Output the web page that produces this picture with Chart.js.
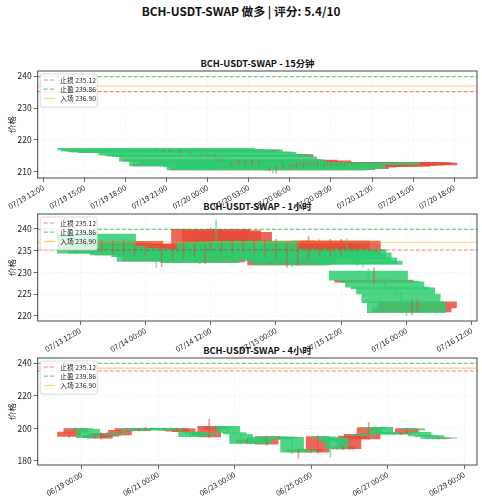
<!DOCTYPE html>
<html><head><meta charset="utf-8">
<script src="https://cdn.jsdelivr.net/npm/chart.js@4/dist/chart.umd.min.js"></script>
<style>
html,body{margin:0;padding:0;background:#fff;width:482px;height:500px;overflow:hidden;position:relative;font-family:"Noto Sans CJK SC",sans-serif;}
.t{position:absolute;text-align:center;color:#111;font-weight:bold;white-space:nowrap;}
canvas{position:absolute;left:0;}
</style></head><body>
<div class="t" style="left:0;width:482px;top:2px;line-height:18px;font-size:11.8px;">BCH-USDT-SWAP 做多 | 评分: 5.4/10</div>
<div class="t" style="left:37.7px;width:439.3px;top:56px;line-height:14px;font-size:9.3px;">BCH-USDT-SWAP - 15分钟</div>
<div class="t" style="left:37.7px;width:439.3px;top:199px;line-height:14px;font-size:9.3px;">BCH-USDT-SWAP - 1小时</div>
<div class="t" style="left:37.7px;width:439.3px;top:343px;line-height:14px;font-size:9.3px;">BCH-USDT-SWAP - 4小时</div>
<canvas id="c1" width="482" height="163" style="top:50px"></canvas>
<canvas id="c2" width="482" height="163" style="top:193px"></canvas>
<canvas id="c3" width="482" height="163" style="top:337px"></canvas>
<script>
// ---- levels ----
const levelNames = ['止损', '止盈', '入场'];
const levelValues = [235.12, 239.86, 236.90];

// ---- 15m ----
const start15m = '07/19 20:15', step15m = 15;
const open15m = [217.4,216.9,216.6,217.0,216.3,216.8,216.4,216.0,216.9,216.2,216.0,216.2,216.1,215.3,215.4,215.0,215.4,214.8,214.7,213.4,213.9,213.5,211.9,212.6,212.2,212.9,212.4,212.9,212.0,212.9,212.3,212.8,211.6,210.6,211.4,210.7,211.8,211.6,212.3,211.0,211.9,211.5,212.3,211.8,212.6,212.0,212.4,211.8,212.9,211.9,212.3,211.7,212.4,212.0,212.5,212.1,212.6,212.3,212.6,212.2];
const close15m = [216.9,216.6,217.0,216.3,216.8,216.4,216.0,216.9,216.2,216.0,216.2,216.0,215.3,215.4,215.0,215.4,214.8,215.4,213.4,213.9,213.5,211.9,212.6,212.2,213.7,212.4,213.2,212.0,213.5,212.3,213.0,211.6,210.6,211.4,210.7,211.8,211.6,212.3,211.0,212.0,212.1,212.6,212.6,212.9,212.8,212.8,212.6,212.9,212.3,212.5,212.6,212.6,212.7,212.9,212.8,212.8,212.9,212.9,212.8,212.8];
const high15m = [217.5,217.1,217.1,217.1,216.9,216.9,216.5,217.0,217.0,216.3,216.4,216.3,216.2,215.6,215.5,215.6,215.5,215.6,214.8,214.1,214.0,213.6,212.8,212.7,213.9,213.1,213.4,213.0,213.7,213.0,213.2,212.9,211.7,211.6,211.5,212.0,211.9,212.5,212.4,212.2,212.3,212.8,212.8,213.1,212.9,213.0,212.8,213.1,213.0,212.7,212.8,212.8,212.9,213.0,212.9,213.0,213.0,213.1,212.9,212.9];
const low15m = [216.8,216.5,216.5,216.2,216.2,216.3,215.9,215.9,216.1,215.9,215.9,215.8,215.1,215.2,214.8,214.9,214.5,214.7,213.2,213.2,213.3,211.7,211.7,212.0,212.1,212.2,212.3,211.8,211.9,212.1,212.2,211.4,210.4,210.4,209.6,209.6,211.4,211.4,210.8,210.9,211.7,211.4,212.1,211.6,212.4,211.9,212.2,211.6,212.1,211.8,212.1,211.5,212.2,211.9,212.3,212.0,212.4,212.2,212.4,212.1];
const ticks15m = ['07/19 12:00','07/19 15:00','07/19 18:00','07/19 21:00','07/20 00:00','07/20 03:00','07/20 06:00','07/20 09:00','07/20 12:00','07/20 15:00','07/20 18:00'];
const yTicks15m = [210, 220, 230, 240];

// ---- 1h ----
const start1h = '07/13 15:00', step1h = 60;
const open1h = [238.8,235.0,236.0,234.5,235.5,234.6,235.4,234.0,235.2,234.3,235.0,234.0,232.6,234.5,233.1,234.8,233.5,235.0,233.9,235.2,232.4,235.2,236.9,235.0,236.8,234.8,237.0,235.2,237.1,234.5,237.1,233.8,235.2,233.2,235.0,231.7,235.1,231.9,235.0,233.3,235.2,234.2,235.1,233.9,235.2,234.1,235.2,234.5,233.3,232.5,230.3,227.7,228.0,227.8,226.6,226.4,225.0,223.2,220.9,221.8];
const close1h = [234.4,237.0,234.4,236.8,234.5,237.1,234.0,236.5,234.2,236.0,233.6,232.5,235.5,233.0,236.2,233.4,236.5,233.8,236.0,232.2,235.8,239.9,235.0,239.6,234.6,239.2,235.2,237.1,234.4,237.1,233.6,237.0,233.0,237.2,232.6,236.5,231.7,236.8,233.2,237.1,234.0,237.0,233.8,237.2,234.0,237.2,233.0,232.8,232.0,231.8,228.2,228.2,227.6,226.6,226.2,225.0,223.0,220.7,221.8,223.2];
const high1h = [239.2,237.4,236.5,237.2,235.8,237.5,235.8,236.9,235.6,236.4,235.3,234.3,235.8,234.8,236.5,235.1,236.9,235.4,236.4,235.6,236.2,240.3,242.1,239.9,237.2,239.5,237.4,238.4,237.5,237.6,237.5,237.6,235.6,237.6,235.4,237.0,235.5,237.1,235.4,238.3,235.6,237.5,235.5,237.6,235.5,237.6,237.7,234.9,233.7,232.9,230.8,231.0,228.4,228.3,227.0,226.9,225.4,223.6,223.6,223.6];
const low1h = [234.2,234.8,234.0,234.2,234.1,234.4,233.7,233.8,233.8,234.0,233.2,231.1,231.3,232.6,232.8,233.0,233.2,233.5,233.6,231.9,232.0,235.0,234.7,234.6,234.2,234.5,234.9,235.0,234.1,234.2,233.2,233.5,232.6,232.9,232.2,231.1,231.3,231.6,232.8,233.0,233.7,233.9,233.4,233.6,233.7,233.8,232.6,232.3,231.6,231.2,227.8,227.3,227.1,226.1,225.7,224.6,222.5,220.0,220.2,221.3];
const ticks1h = ['07/13 12:00','07/14 00:00','07/14 12:00','07/15 00:00','07/15 12:00','07/16 00:00','07/16 12:00'];
const yTicks1h = [220, 225, 230, 235, 240];

// ---- 4h ----
const start4h = '06/18 16:00', step4h = 240;
const open4h = [195.0,197.7,199.8,199.4,194.3,194.0,195.2,196.8,196.0,198.6,199.6,198.6,199.4,200.0,199.8,199.0,199.8,198.2,197.9,197.7,197.5,196.8,194.7,199.5,200.8,201.2,197.4,196.3,191.0,193.0,194.4,190.2,194.8,193.5,194.6,194.4,185.5,186.8,185.8,185.3,194.8,194.0,194.0,187.4,187.5,193.5,196.2,193.5,200.4,200.6,197.6,197.0,196.5,197.0,199.6,197.5,195.6,195.6,193.8,194.1];
const close4h = [197.7,199.8,199.3,194.2,195.5,196.9,196.8,196.0,198.8,199.8,198.6,199.6,200.0,199.2,199.0,199.8,198.8,199.8,199.6,194.9,196.5,195.5,201.2,200.8,200.2,197.3,196.5,190.8,193.0,191.5,190.8,194.9,193.5,194.6,193.8,185.3,186.8,185.6,187.0,195.0,194.0,192.0,187.5,188.6,195.3,196.3,195.5,200.5,199.8,196.5,196.8,196.4,197.0,199.8,199.0,195.3,195.0,193.8,194.1,193.9];
const high4h = [198.2,200.3,200.3,199.9,196.0,197.4,197.3,197.2,199.3,200.3,200.1,200.1,200.6,200.5,200.2,200.3,200.3,200.3,200.1,198.2,198.0,197.3,205.5,201.3,201.3,201.7,197.9,196.8,193.5,193.5,194.9,195.4,195.3,195.1,195.1,194.9,187.3,187.3,187.5,195.5,195.3,194.5,194.5,189.1,195.8,196.8,196.7,203.7,200.9,201.1,198.1,197.5,197.5,200.3,200.1,198.0,196.1,196.1,194.6,194.6];
const low4h = [194.4,197.2,198.8,193.4,193.8,193.5,194.8,195.6,195.5,198.1,198.1,198.2,199.0,198.8,198.5,198.6,198.3,197.8,197.4,194.4,196.0,195.0,194.2,199.0,199.7,196.8,196.0,190.2,190.5,191.0,190.3,189.7,193.0,193.0,193.3,184.5,181.6,185.1,185.3,184.8,193.5,182.3,187.0,186.9,187.0,193.0,195.0,193.0,199.3,196.0,196.3,195.9,196.0,196.5,198.5,194.8,194.5,193.3,193.3,193.4];
const ticks4h = ['06/19 00:00','06/21 00:00','06/23 00:00','06/25 00:00','06/27 00:00','06/29 00:00'];
const yTicks4h = [180, 200, 220, 240];

// ---- helpers ----
const FONT = '"Noto Sans CJK SC", sans-serif';
const YEAR = 2025;
function parseT(s) {
  const [d, t] = s.split(' ');
  const [mo, da] = d.split('/').map(Number);
  const [h, mi] = t.split(':').map(Number);
  return Date.UTC(YEAR, mo - 1, da, h, mi);
}
function fmt(v) {
  const d = new Date(v); const p = n => String(n).padStart(2, '0');
  return p(d.getUTCMonth() + 1) + '/' + p(d.getUTCDate()) + ' ' + p(d.getUTCHours()) + ':' + p(d.getUTCMinutes());
}
const PLOT_LEFT = 37.7, PLOT_RIGHT_PAD = 5, CANVAS_W = 482;
const BODY_HOURS = 14.4; // bar width of 0.6 day
const RED = 'rgba(231,76,60,0.85)', GREEN = 'rgba(46,204,113,0.85)';
const RED_W = 'rgba(231,76,60,0.55)', GREEN_W = 'rgba(46,204,113,0.55)';
const levelStyle = [
  {color: 'rgba(255,0,0,0.5)', dash: [4, 2]},
  {color: 'rgba(0,170,0,0.55)', dash: [4, 2]},
  {color: 'rgba(255,165,0,0.5)', dash: []}
];

const framePlugin = {
  id: 'frameLegend',
  afterDraw(chart) {
    const {ctx, chartArea: a} = chart;
    ctx.save();
    ctx.strokeStyle = '#444'; ctx.lineWidth = 1;
    ctx.strokeRect(a.left, a.top, a.right - a.left, a.bottom - a.top);
    const items = chart.data.datasets.filter(d => d.isLevel);
    const x0 = a.left + 2.5, y0 = a.top + 3, w = 57, h = 33, r = 2;
    ctx.beginPath();
    ctx.moveTo(x0 + r, y0); ctx.lineTo(x0 + w - r, y0); ctx.quadraticCurveTo(x0 + w, y0, x0 + w, y0 + r);
    ctx.lineTo(x0 + w, y0 + h - r); ctx.quadraticCurveTo(x0 + w, y0 + h, x0 + w - r, y0 + h);
    ctx.lineTo(x0 + r, y0 + h); ctx.quadraticCurveTo(x0, y0 + h, x0, y0 + h - r);
    ctx.lineTo(x0, y0 + r); ctx.quadraticCurveTo(x0, y0, x0 + r, y0); ctx.closePath();
    ctx.fillStyle = 'rgba(255,255,255,0.8)'; ctx.fill();
    ctx.strokeStyle = 'rgba(204,204,204,0.9)'; ctx.lineWidth = 0.8; ctx.stroke();
    items.forEach((d, j) => {
      const yy = y0 + 6 + j * 9.2;
      ctx.strokeStyle = d.borderColor; ctx.lineWidth = d.borderWidth;
      ctx.setLineDash(d.borderDash || []);
      ctx.beginPath(); ctx.moveTo(x0 + 3.5, yy); ctx.lineTo(x0 + 15, yy); ctx.stroke();
      ctx.setLineDash([]);
      ctx.fillStyle = '#222'; ctx.font = '6.8px ' + FONT; ctx.textBaseline = 'middle'; ctx.textAlign = 'left';
      ctx.fillText(d.label, x0 + 20, yy);
    });
    ctx.restore();
  }
};

function makeChart(id, spec) {
  const t0 = parseT(spec.start);
  const times = spec.open.map((_, i) => t0 + i * spec.step * 60000);
  const red = [], green = [], redW = [], greenW = [];
  times.forEach((t, i) => {
    const o = spec.open[i], c = spec.close[i];
    const up = c >= o;
    (up ? red : green).push({x: t, y: [o, c]});
    (up ? redW : greenW).push({x: t, y: [spec.low[i], spec.high[i]]});
  });
  const xmin = parseT(spec.xMin), xmax = parseT(spec.xMax);
  const plotW = CANVAS_W - PLOT_LEFT - PLOT_RIGHT_PAD;
  const bodyPx = BODY_HOURS * 3600000 * plotW / (xmax - xmin);
  const levelDs = levelValues.map((v, j) => ({
    type: 'line', isLevel: true,
    label: levelNames[j] + ' ' + v.toFixed(2),
    data: [{x: xmin, y: v}, {x: xmax, y: v}],
    borderColor: levelStyle[j].color, borderDash: levelStyle[j].dash, borderWidth: 1.2,
    pointRadius: 0, fill: false, order: 0
  }));
  const barBase = {type: 'bar', grouped: false, borderWidth: 0, borderSkipped: false};
  const datasets = [
    ...levelDs,
    Object.assign({}, barBase, {label: 'wr', data: redW, backgroundColor: RED_W, barThickness: 1, order: 1}),
    Object.assign({}, barBase, {label: 'wg', data: greenW, backgroundColor: GREEN_W, barThickness: 1, order: 1}),
    Object.assign({}, barBase, {label: 'g', data: green, backgroundColor: GREEN, barThickness: bodyPx, order: 2}),
    Object.assign({}, barBase, {label: 'r', data: red, backgroundColor: RED, barThickness: bodyPx, order: 3})
  ];
  new Chart(document.getElementById(id), {
    type: 'bar',
    data: {datasets},
    plugins: [framePlugin],
    options: {
      responsive: false, animation: false, events: [],
      layout: {padding: {top: 21, right: PLOT_RIGHT_PAD, left: 0, bottom: 0}},
      plugins: {legend: {display: false}, tooltip: {enabled: false}, title: {display: false}},
      scales: {
        x: {
          type: 'linear', min: xmin, max: xmax, offset: false,
          afterBuildTicks: s => { s.ticks = spec.ticks.map(k => ({value: parseT(k)})); },
          afterFit: s => { s.height = 35; },
          ticks: {autoSkip: false, minRotation: 30, maxRotation: 30, padding: 1,
                  font: {size: 7.5, family: FONT}, color: '#222', callback: v => fmt(v)},
          grid: {color: 'rgba(0,0,0,0.08)', lineWidth: 0.8, tickLength: 4, tickColor: '#444', offset: false},
          border: {display: false, dash: [1.5, 2]}
        },
        y: {
          min: spec.yMin, max: spec.yMax,
          afterBuildTicks: s => { s.ticks = spec.yTicks.map(v => ({value: v})); },
          afterFit: s => { s.width = PLOT_LEFT; },
          ticks: {font: {size: 8.5, family: FONT}, color: '#222', padding: 2},
          grid: {color: 'rgba(0,0,0,0.08)', lineWidth: 0.8, tickLength: 4, tickColor: '#444'},
          border: {display: false, dash: [1.5, 2]},
          title: {display: true, text: '价格', font: {size: 8.5, family: FONT}, color: '#222', padding: {top: 6.5, bottom: 0}}
        }
      }
    }
  });
}

makeChart('c1', {start: start15m, step: step15m, open: open15m, close: close15m, high: high15m, low: low15m,
  xMin: '07/19 11:35', xMax: '07/20 19:40', ticks: ticks15m, yTicks: yTicks15m, yMin: 208.1, yMax: 241.6});
makeChart('c2', {start: start1h, step: step1h, open: open1h, close: close1h, high: high1h, low: low1h,
  xMin: '07/13 04:12', xMax: '07/16 12:58', ticks: ticks1h, yTicks: yTicks1h, yMin: 218.8, yMax: 243.4});
makeChart('c3', {start: start4h, step: step4h, open: open4h, close: close4h, high: high4h, low: low4h,
  xMin: '06/17 20:24', xMax: '06/29 08:00', ticks: ticks4h, yTicks: yTicks4h, yMin: 177.5, yMax: 243.1});
</script>
</body></html>
